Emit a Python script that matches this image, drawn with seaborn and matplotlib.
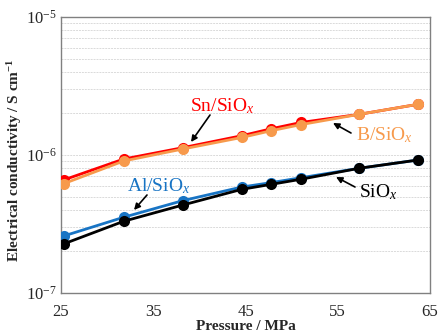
import numpy as np
import pandas as pd
import matplotlib
matplotlib.use("Agg")
import matplotlib.pyplot as plt
import seaborn as sns
from matplotlib.ticker import LogLocator, NullFormatter, FixedLocator

pressure = [25.3, 31.8, 38.2, 44.6, 47.8, 51.0, 57.3, 63.7]
sn_siox = [6.6e-7, 9.35e-7, 1.13e-6, 1.38e-6, 1.55e-6, 1.72e-6, 1.97e-6, 2.33e-6]
b_siox = [6.2e-7, 9.05e-7, 1.105e-6, 1.34e-6, 1.50e-6, 1.66e-6, 1.97e-6, 2.33e-6]
al_siox = [2.59e-7, 3.54e-7, 4.67e-7, 5.86e-7, 6.31e-7, 6.84e-7, 8.01e-7, 9.2e-7]
siox = [2.27e-7, 3.31e-7, 4.34e-7, 5.64e-7, 6.13e-7, 6.67e-7, 8.01e-7, 9.2e-7]

series_names = ["Sn/SiOx", "B/SiOx", "Al/SiOx", "SiOx"]
series_values = [sn_siox, b_siox, al_siox, siox]
colors = ["#FF0000", "#F79A4C", "#1874C4", "#000000"]

x_ticks = [25, 35, 45, 55, 65]

sns.set_style("white")
plt.rcParams["font.family"] = ["Liberation Serif", "DejaVu Serif"]
plt.rcParams["mathtext.fontset"] = "custom"
plt.rcParams["mathtext.rm"] = "Liberation Serif"
plt.rcParams["mathtext.it"] = "Liberation Serif:italic"
plt.rcParams["mathtext.bf"] = "Liberation Serif:bold"
plt.rcParams["mathtext.default"] = "regular"

fig = plt.figure(figsize=(4.38, 3.34), dpi=100)
ax = fig.add_axes([61/438, 41/334, 369/438, 276/334])

rows = []
for name, vals in zip(series_names, series_values):
    for p, v in zip(pressure, vals):
        rows.append({"Pressure": p, "Conductivity": v, "Sample": name})
df = pd.DataFrame(rows)

for name, col in zip(series_names, colors):
    sub = df[df["Sample"] == name]
    sns.lineplot(data=sub, x="Pressure", y="Conductivity", ax=ax, color=col,
                 marker="o", markersize=8, markeredgewidth=0, linewidth=2,
                 legend=False, zorder=3)

ax.set_yscale("log")
ax.set_ylim(1e-7, 1e-5)
ax.set_xlim(25, 65)
ax.xaxis.set_major_locator(FixedLocator(x_ticks))
ax.yaxis.set_major_locator(LogLocator(base=10, numticks=5))
ax.yaxis.set_minor_locator(LogLocator(base=10, subs=np.arange(2, 10), numticks=20))
ax.yaxis.set_minor_formatter(NullFormatter())
ax.grid(True, axis="y", which="both", color="#DADADA", linewidth=0.7, linestyle=(0, (2, 1)))
ax.grid(False, axis="x")
ax.set_axisbelow(True)
for s in ax.spines.values():
    s.set_color("#808080")
    s.set_linewidth(1.0)
ax.tick_params(axis="x", which="major", direction="in", length=5, color="#808080",
               labelsize=12, pad=8)
ax.tick_params(axis="y", which="major", direction="out", length=2, color="#808080",
               labelsize=12, pad=1)
ax.tick_params(axis="y", which="minor", length=0)

ax.set_xlabel("Pressure / MPa", fontsize=11, fontweight="bold", labelpad=0)
ax.set_ylabel(r"Electrical conductivity / S cm$^{\mathbf{-1}}$", fontsize=11,
              fontweight="bold")
ax.yaxis.set_label_coords(-0.100, 0.482)

def pt(px, py):
    # pixel coords (from top-left) -> figure fraction
    return (px / 438, 1 - py / 334)

arrow = dict(arrowstyle="-|>", color="black", lw=1.2, mutation_scale=9, shrinkA=0, shrinkB=0)
annots = [
    (r"Sn/SiO$_{\mathit{x}}$", "#FF0000", (222, 106), (210, 115), (191, 142)),
    (r"B/SiO$_{\mathit{x}}$", "#F79A4C", (384, 135), (351, 133), (333, 123)),
    (r"Al/SiO$_{\mathit{x}}$", "#1874C4", (159, 186), (147, 195), (134, 210)),
    (r"SiO$_{\mathit{x}}$", "#000000", (378, 192), (355, 187), (336, 177)),
]
for txt, col, tpos, tail, head in annots:
    fig.text(*pt(*tpos), txt, color=col, fontsize=14, ha="center", va="center")
    ax.annotate("", xy=pt(*head), xytext=pt(*tail), xycoords="figure fraction",
                textcoords="figure fraction", arrowprops=arrow)

fig.savefig("out.png", dpi=100)
